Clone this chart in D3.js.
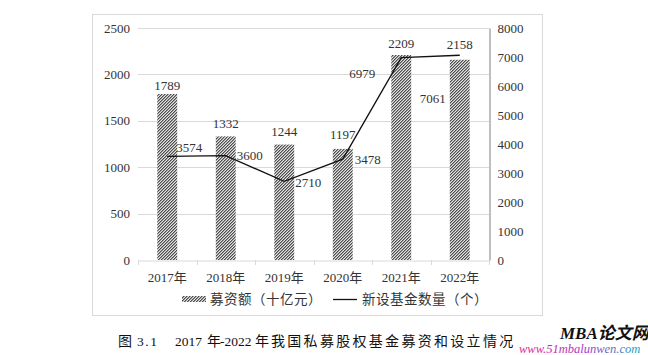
<!DOCTYPE html>
<html><head><meta charset="utf-8">
<script src="https://cdn.jsdelivr.net/npm/d3@7"></script>
<style>
body{margin:0;background:#fff;}
svg text{font-family:"Liberation Serif","Noto Sans CJK SC",serif;}
</style></head>
<body><svg id="c" width="648" height="355"></svg>
<script>
const categories = ["2017年","2018年","2019年","2020年","2021年","2022年"];
const fundraising = [1789,1332,1244,1197,2209,2158];
const newFunds = [3574,3600,2710,3478,6979,7061];
const leftTicks = [0,500,1000,1500,2000,2500];
const rightTicks = [0,1000,2000,3000,4000,5000,6000,7000,8000];
const legendLabels = ["募资额（十亿元）","新设基金数量（个）"];
const captionParts = ["图","3.1","2017","年","-2022","年"];
const captionTail = "我国私募股权基金募资和设立情况";

// label placements (style only)
const barLabelDy = [1,-4,-4.5,-5,-2,-6];
const lineLabelOff = [[9,-9],[11,0],[11,1],[12,0],[-52,16],[-40,43]];
const captionX = [118,137,175,207,220,255];
const captionTailX = 271, captionStep = 16.3;

const svg = d3.select("#c");
const m = {l:138, r:489, t:28, b:260};
svg.append("rect").attr("x",92.5).attr("y",14.5).attr("width",450).attr("height",301)
  .attr("fill","#fff").attr("stroke","#d9d9d9");

const x = d3.scaleBand().domain(categories).range([m.l,m.r]).paddingInner(0.66).paddingOuter(0.33);
const xb = d3.scaleBand().domain(categories).range([m.l,m.r]);
const yL = d3.scaleLinear().domain([0,2500]).range([m.b,m.t]);
const yR = d3.scaleLinear().domain([0,8000]).range([m.b,m.t]);

const defs = svg.append("defs");
const pat = defs.append("pattern").attr("id","hatch").attr("patternUnits","userSpaceOnUse")
  .attr("width",3).attr("height",3);
pat.append("rect").attr("width",3).attr("height",3).attr("fill","#e2e2e2");
[[0,0],[1,2],[2,1]].forEach(([px,py])=>{
  pat.append("rect").attr("x",px).attr("y",py).attr("width",1).attr("height",1).attr("fill","#4d4d4d");
});
[[1,0],[2,2],[0,1]].forEach(([px,py])=>{
  pat.append("rect").attr("x",px).attr("y",py).attr("width",1).attr("height",1).attr("fill","#9a9a9a");
});
const grad = defs.append("linearGradient").attr("id","wm");
grad.append("stop").attr("offset","0%").attr("stop-color","#e8288c");
grad.append("stop").attr("offset","55%").attr("stop-color","#a03cc8");
grad.append("stop").attr("offset","100%").attr("stop-color","#1aa6c8");

// gridlines
svg.append("g").selectAll("line").data(leftTicks.filter(d=>d>0)).join("line")
  .attr("x1",m.l).attr("x2",m.r).attr("y1",d=>Math.round(yL(d))+0.5).attr("y2",d=>Math.round(yL(d))+0.5)
  .attr("stroke","#d9d9d9");

// left axis labels
svg.append("g").selectAll("text").data(leftTicks).join("text")
  .attr("x",130).attr("y",d=>yL(d)).attr("dy","0.35em").attr("text-anchor","end")
  .attr("font-size",13).attr("fill","#333").text(d=>d);

// right axis
const ra = d3.axisRight(yR).tickValues(rightTicks).tickFormat(d=>d).tickSize(0).tickPadding(8);
const gR = svg.append("g").attr("transform",`translate(${m.r+0.5},0)`).call(ra);
gR.select(".domain").attr("stroke","#7f7f7f");
gR.selectAll("text").attr("font-size",13).attr("fill","#333").attr("font-family","Liberation Serif");

// bars
svg.append("g").selectAll("rect").data(fundraising).join("rect")
  .attr("x",(d,i)=>x(categories[i])).attr("width",x.bandwidth())
  .attr("y",d=>yL(d)).attr("height",d=>m.b-yL(d)).attr("fill","url(#hatch)");

// x axis
const xa = d3.axisBottom(xb).tickSize(0).tickPadding(12);
const gX = svg.append("g").attr("transform",`translate(0,${m.b+0.5})`).call(xa);
gX.select(".domain").attr("stroke","#d9d9d9");
gX.selectAll("text").attr("font-size",13).attr("fill","#333").attr("font-family","Liberation Serif, Noto Sans CJK SC");
svg.append("g").selectAll("line").data(d3.range(categories.length+1)).join("line")
  .attr("x1",i=>Math.round(m.l+i*xb.step())+0.5).attr("x2",i=>Math.round(m.l+i*xb.step())+0.5)
  .attr("y1",m.b).attr("y2",m.b+5).attr("stroke","#d9d9d9");

// line
const line = d3.line().x((d,i)=>xb(categories[i])+xb.bandwidth()/2).y(d=>yR(d));
svg.append("path").datum(newFunds).attr("d",line).attr("fill","none").attr("stroke","#111").attr("stroke-width",1.3);

// bar labels
svg.append("g").selectAll("text").data(fundraising).join("text")
  .attr("x",(d,i)=>x(categories[i])+x.bandwidth()/2).attr("y",(d,i)=>yL(d)+barLabelDy[i])
  .attr("dy","-0.35em").attr("text-anchor","middle").attr("font-size",13).attr("fill","#333").text(d=>d);

// line labels
svg.append("g").selectAll("text").data(newFunds).join("text")
  .attr("x",(d,i)=>xb(categories[i])+xb.bandwidth()/2+lineLabelOff[i][0])
  .attr("y",(d,i)=>yR(d)+lineLabelOff[i][1]).attr("dy","0.35em")
  .attr("font-size",13).attr("fill","#333").text(d=>d);

// legend
const lg = svg.append("g").attr("transform","translate(0,299)");
lg.append("rect").attr("x",182).attr("y",-3).attr("width",24).attr("height",6).attr("fill","url(#hatch)");
lg.append("text").attr("x",210).attr("dy","0.35em").attr("font-size",13.5).attr("fill","#333")
  .attr("letter-spacing",0.5).attr("font-family","Noto Sans CJK SC").text(legendLabels[0]);
lg.append("line").attr("x1",333).attr("x2",357).attr("y1",0.5).attr("y2",0.5).attr("stroke","#111").attr("stroke-width",1.3);
lg.append("text").attr("x",362).attr("dy","0.35em").attr("font-size",13.5).attr("fill","#333")
  .attr("letter-spacing",0.5).attr("font-family","Noto Sans CJK SC").text(legendLabels[1]);

// caption
const cap = svg.append("g");
cap.selectAll("text.p").data(captionParts).join("text").attr("class","p")
  .attr("x",(d,i)=>captionX[i]).attr("y",341).attr("dy","0.35em")
  .attr("font-size",(d,i)=>(i===0||i===3||i===5)?14:13.5)
  .attr("letter-spacing",(d,i)=>i===1?1.5:0)
  .attr("fill","#111").text(d=>d);
cap.selectAll("text.t").data(Array.from(captionTail)).join("text").attr("class","t")
  .attr("x",(d,i)=>captionTailX+i*captionStep).attr("y",341).attr("dy","0.35em")
  .attr("font-size",14).attr("fill","#111").text(d=>d);

// watermark
svg.append("text").attr("x",560).attr("y",339).attr("font-size",17).attr("font-weight","bold")
  .attr("font-style","italic").attr("fill","#111").attr("font-family","Liberation Sans, Noto Sans CJK SC").text("MBA论文网");
svg.append("text").attr("x",519).attr("y",353).attr("font-size",12.5).attr("font-style","italic")
  .attr("fill","url(#wm)").attr("font-family","Liberation Sans").text("www.51mbalunwen.com");
</script></body></html>
